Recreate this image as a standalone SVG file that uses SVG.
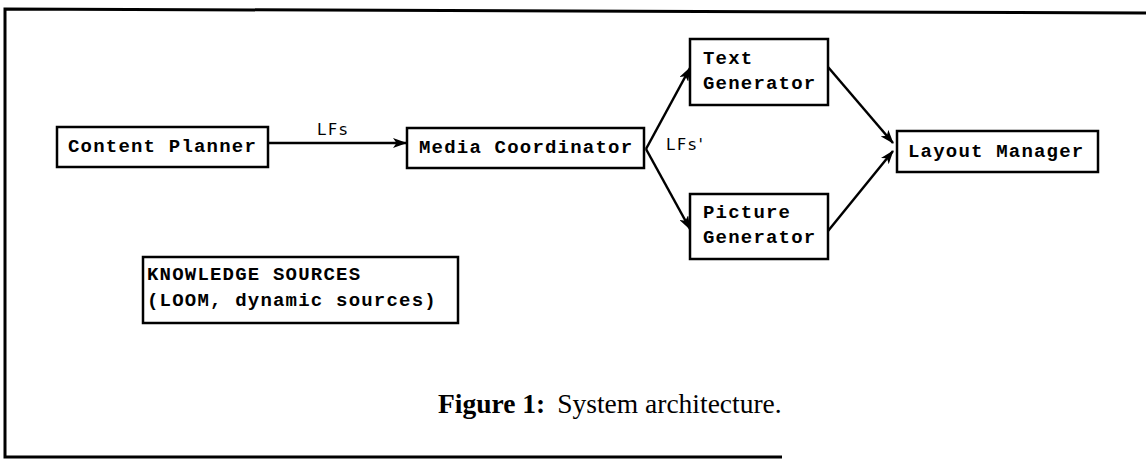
<svg xmlns="http://www.w3.org/2000/svg" width="1146" height="460" viewBox="0 0 1146 460">
  <style>
    .box { fill: #fff; stroke: #000; stroke-width: 2.5; }
    .mono { font-family: "Liberation Mono", "Courier New", monospace; font-weight: bold; font-size: 19px; letter-spacing: 1.2px; fill: #000; }
    .hand { font-family: "DejaVu Sans", sans-serif; font-size: 16px; fill: #000; letter-spacing: 2px; }
    .edge { stroke: #000; stroke-width: 2.5; fill: none; marker-end: url(#arrow); }
    .frame { stroke: #000; stroke-width: 3; fill: none; }
    .caption { font-family: "Liberation Serif", "Times New Roman", serif; font-size: 27.5px; fill: #000; }
  </style>
  <defs>
    <marker id="arrow" viewBox="0 0 14 10" refX="13" refY="5" markerWidth="14" markerHeight="10" markerUnits="userSpaceOnUse" orient="auto">
      <path d="M0,0 L14,5 L0,10 L3.5,5 Z" fill="#000"/>
    </marker>
  </defs>
  <rect width="1146" height="460" fill="#fff"/>

  <!-- open frame: left, top and bottom rules -->
  <path class="frame" d="M1146,13 L5,9 L5,457 L782,457"/>

  <g id="connectors">
    <line class="edge" x1="268" y1="143" x2="406" y2="143"/>
    <line class="edge" x1="646" y1="149" x2="690" y2="68"/>
    <line class="edge" x1="646" y1="149" x2="690" y2="229"/>
    <line class="edge" x1="828" y1="67" x2="893" y2="143"/>
    <line class="edge" x1="828" y1="231" x2="893" y2="151"/>
    <text class="hand" x="317" y="135">LFs</text>
    <text class="hand" x="666" y="150">LFs'</text>
  </g>

  <g id="content-planner">
    <rect class="box" x="57" y="127" width="211" height="40"/>
    <text class="mono" x="68" y="152">Content Planner</text>
  </g>

  <g id="media-coordinator">
    <rect class="box" x="407" y="128" width="237" height="40"/>
    <text class="mono" x="419" y="153">Media Coordinator</text>
  </g>

  <g id="text-generator">
    <rect class="box" x="690" y="39" width="138" height="66"/>
    <text class="mono" x="703" y="64">Text</text>
    <text class="mono" x="703" y="89">Generator</text>
  </g>

  <g id="picture-generator">
    <rect class="box" x="690" y="194" width="138" height="65"/>
    <text class="mono" x="703" y="218">Picture</text>
    <text class="mono" x="703" y="243">Generator</text>
  </g>

  <g id="layout-manager">
    <rect class="box" x="897" y="131" width="201" height="41"/>
    <text class="mono" x="908" y="157">Layout Manager</text>
  </g>

  <g id="knowledge-sources">
    <rect class="box" x="143" y="257" width="315" height="66"/>
    <text class="mono" x="147" y="280">KNOWLEDGE SOURCES</text>
    <text class="mono" x="147" y="306">(LOOM, dynamic sources)</text>
  </g>

  <text class="caption" x="438" y="413"><tspan font-weight="bold">Figure 1:</tspan><tspan dx="12">System architecture.</tspan></text>
</svg>
